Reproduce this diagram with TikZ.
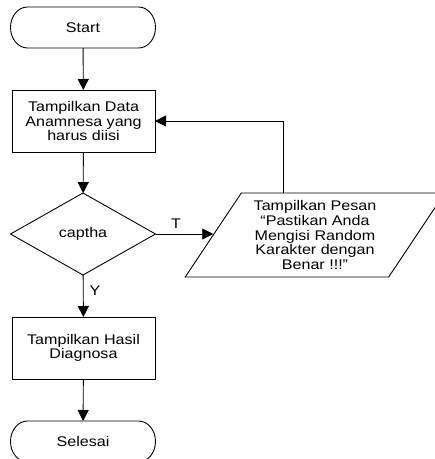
\documentclass[tikz,border=0pt]{standalone}
\usepackage{fontspec}
\setmainfont[FakeStretch=1.15]{Liberation Sans}
\usetikzlibrary{shapes.geometric,arrows.meta}
\begin{document}
\begin{tikzpicture}[x=1pt,y=-1pt,line width=0.9pt,
  txt/.style={font=\fontsize{14}{14.6}\selectfont,align=center,inner sep=0pt,outer sep=0pt},
  procbox/.style={txt,draw,minimum width=143pt,minimum height=62pt},
  term/.style={txt,minimum width=145pt,minimum height=41pt},
  decis/.style={txt,draw,shape=diamond,minimum width=145pt,minimum height=82pt},
  iobox/.style={txt,draw,shape=trapezium,trapezium left angle=55.8,trapezium right angle=124.2,
     trapezium stretches=true,minimum width=260pt,minimum height=84pt},
  arr/.style={-{Triangle[length=11pt,width=11pt]}},
  lbl/.style={font=\fontsize{14}{14.6}\selectfont,inner sep=0pt}]
\useasboundingbox (0,0) rectangle (435,459);
\clip (0,0) rectangle (435,459);
\node[term] (start) at (83,27.5) {Start};
\draw ([xshift=17pt]start.north west) -- ([xshift=-17pt]start.north east)
   arc[start angle=-90,end angle=90,x radius=17,y radius=20.5]
   -- ([xshift=17pt]start.south west)
   arc[start angle=90,end angle=270,x radius=17,y radius=20.5] -- cycle;
\node[procbox] (b1) at (83.5,121) {Tampilkan Data\\Anamnesa yang\\harus diisi};
\node[decis] (dia) at (83,234) {captha};
\node[iobox] (para) at (315,235) {Tampilkan Pesan\\\char"201C Pastikan Anda\\Mengisi Random\\Karakter dengan\\Benar !!!"};
\node[procbox] (b2) at (83.5,348) {Tampilkan Hasil\\Diagnosa};
\node[term] (end) at (83,441.5) {Selesai};
\draw ([xshift=17pt]end.north west) -- ([xshift=-17pt]end.north east)
   arc[start angle=-90,end angle=90,x radius=17,y radius=20.5]
   -- ([xshift=17pt]end.south west)
   arc[start angle=90,end angle=270,x radius=17,y radius=20.5] -- cycle;
\draw[arr] (start) -- (b1);
\draw[arr] (b1) -- (dia);
\draw[arr] (dia.east) -- (dia.east -| para.west);
\draw[arr] ([xshift=-31.5pt]para.north) |- (b1.east);
\draw[arr] (dia) -- (b2);
\draw[arr] (b2) -- (end);
\node[lbl] (t) at (176,224) {T};
\node[lbl] (y) at (95,291) {Y};
\end{tikzpicture}
\end{document}
